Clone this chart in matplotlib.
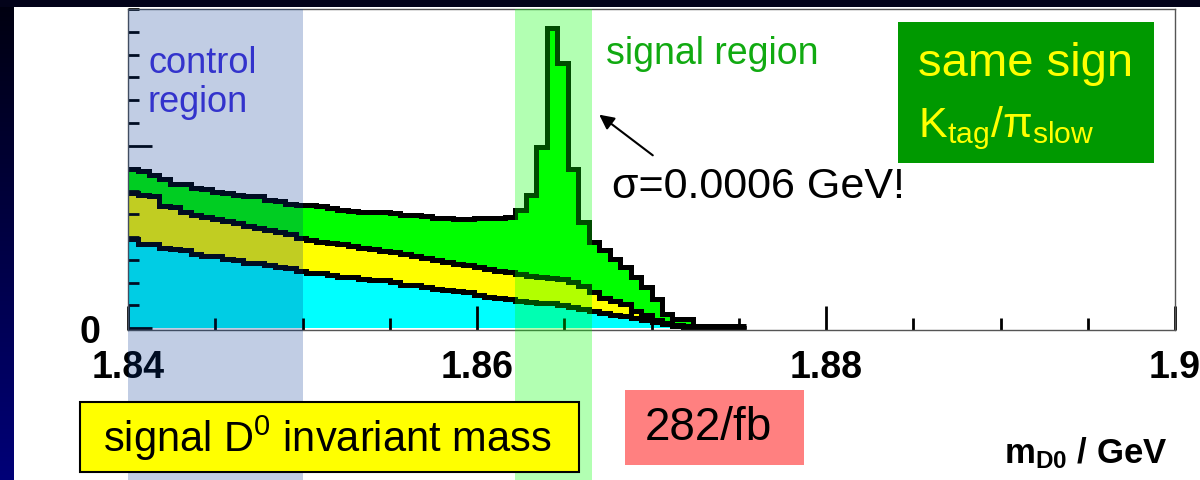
import numpy as np
import matplotlib
matplotlib.use('Agg')
import matplotlib.pyplot as plt
from matplotlib.patches import Rectangle, FancyArrowPatch
from matplotlib.ticker import MultipleLocator, FixedLocator, FixedFormatter

plt.rcParams['font.family'] = ['Liberation Sans', 'DejaVu Sans']
plt.rcParams['mathtext.fontset'] = 'custom'
plt.rcParams['mathtext.rm'] = 'Liberation Sans'
plt.rcParams['mathtext.it'] = 'Liberation Sans:italic'
plt.rcParams['mathtext.bf'] = 'Liberation Sans:bold'

# D0 mass histogram, 0.6 MeV bins starting at 1.84 GeV (stacked, cumulative)
m_low = 1.84
bin_width = 0.0006
cyan_top = [392, 370, 370, 352, 348, 343, 326, 317, 317, 304,
            299, 286, 286, 277, 268, 264, 251, 242, 242, 233,
            224, 224, 216, 211, 211, 202, 189, 189, 180, 172,
            167, 163, 158, 145, 136, 132, 128, 119, 114, 110,
            110, 101, 92, 84, 75, 66, 57, 53, 44, 35,
            26, 18, 9, 4, 0, 0, 0, 0, 0]
yellow_top = [594, 585, 581, 537, 532, 510, 497, 488, 480, 471,
              462, 449, 440, 431, 422, 414, 396, 387, 378, 374,
              370, 361, 352, 348, 339, 334, 326, 317, 308, 299,
              290, 282, 277, 268, 260, 251, 246, 238, 229, 224,
              220, 216, 202, 185, 158, 132, 119, 106, 75, 57,
              35, 22, 13, 9, 0, 0, 0, 0, 0]
total = [700, 691, 673, 656, 634, 634, 616, 612, 598, 594,
         585, 581, 581, 563, 559, 546, 541, 541, 537, 528,
         519, 515, 510, 510, 510, 506, 497, 497, 493, 484,
         484, 480, 480, 484, 484, 484, 488, 519, 585, 796,
         1316, 1162, 700, 466, 378, 343, 304, 268, 224, 180,
         128, 62, 40, 40, 9, 9, 9, 9, 9]

control_region = (1.84, 1.85)
signal_region = (1.8622, 1.8666)
x_ticks = [1.84, 1.86, 1.88, 1.90]
x_tick_labels = ['1.84', '1.86', '1.88', '1.9']

W, H = 1200, 481


def fx(px):
    return px / W


def fy(py):
    return 1 - py / H


fig = plt.figure(figsize=(12, 4.81), dpi=100, facecolor='white')

# dark slide border (left and top)
left_strip = fig.add_axes([0, 0, fx(14), 1])
grad = np.linspace(0, 1, 256).reshape(-1, 1)
left_strip.imshow(grad, aspect='auto', cmap=matplotlib.colors.LinearSegmentedColormap.from_list(
    'navy', [(0.0, 0.0, 0.06), (0.0, 0.0, 0.47)]))
left_strip.axis('off')
top_strip = fig.add_axes([0, fy(8), 1, 8 / H])
top_strip.set_facecolor((0.01, 0.01, 0.1))
top_strip.set_xticks([])
top_strip.set_yticks([])
for s in top_strip.spines.values():
    s.set_visible(False)

ax_left, ax_right, ax_top, ax_bottom = 128, 1175, 10, 331
ax = fig.add_axes([fx(ax_left), fy(ax_bottom), (ax_right - ax_left) / W, (ax_bottom - ax_top) / H])

edges = m_low + bin_width * np.arange(len(total) + 1)
ax.stairs(total, edges, fill=True, color='#00ff00', baseline=0, zorder=1)
ax.stairs(yellow_top, edges, fill=True, color='#ffff00', baseline=0, zorder=1.1)
ax.stairs(cyan_top, edges, fill=True, color='#00ffff', baseline=0, zorder=1.2)
for vals in (total, yellow_top, cyan_top):
    ax.stairs(vals, edges, color='black', lw=3.6, baseline=None, zorder=1.5)

ax.set_xlim(1.84, 1.90)
ax.set_ylim(-8, 1400)

ax.xaxis.set_major_locator(FixedLocator(x_ticks))
ax.xaxis.set_major_formatter(FixedFormatter(x_tick_labels))
ax.xaxis.set_minor_locator(MultipleLocator(0.005))
ax.yaxis.set_major_locator(FixedLocator([0, 800]))
ax.yaxis.set_major_formatter(FixedFormatter(['0', '']))
ax.yaxis.set_minor_locator(MultipleLocator(100))
ax.tick_params(axis='x', which='major', direction='in', length=17, width=2, pad=14,
               labelsize=27, top=False)
ax.tick_params(axis='x', which='minor', direction='in', length=8.5, width=2, top=False)
ax.tick_params(axis='y', which='major', direction='in', length=17, width=2, pad=20,
               labelsize=27, right=False)
ax.tick_params(axis='y', which='minor', direction='in', length=8, width=2, right=False)
for lab in ax.get_xticklabels() + ax.get_yticklabels():
    lab.set_fontweight('bold')
for s in ax.spines.values():
    s.set_color('#555555')
    s.set_linewidth(1.0)

# control / signal region bands reach down to the bottom of the slide
band_low = -(H - ax_bottom) / (ax_bottom - ax_top)
ax.axvspan(*control_region, ymin=band_low, ymax=1, color=(0, 53 / 255, 144 / 255),
           alpha=0.243, lw=0, clip_on=False, zorder=3)
ax.axvspan(*signal_region, ymin=band_low, ymax=1, color=(0, 1, 0),
           alpha=0.3, lw=0, clip_on=False, zorder=3)

# annotations
fig.text(fx(148), fy(73), 'control', color='#3333cc', fontsize=26, va='baseline')
fig.text(fx(148), fy(112), 'region', color='#3333cc', fontsize=26, va='baseline')
fig.text(fx(606), fy(64), 'signal region', color='#11aa11', fontsize=27, va='baseline')

fig.add_artist(Rectangle((fx(898), fy(164)), fx(1154) - fx(898), fy(23) - fy(164),
                         transform=fig.transFigure, facecolor='#009900', edgecolor='none'))
fig.text(fx(918), fy(76), 'same sign', color='#ffff00', fontsize=34, va='baseline')
fig.text(fx(918), fy(137), r'$\mathrm{K_{tag}/\pi_{slow}}$', color='#ffff00', fontsize=31,
         va='baseline')

fig.text(fx(612), fy(198), 'σ=0.0006 GeV!', color='black', fontsize=31, va='baseline')
fig.add_artist(FancyArrowPatch((fx(655), fy(158)), (fx(597), fy(114)), transform=fig.transFigure,
                               arrowstyle='-|>', mutation_scale=22, lw=1.5, color='black'))

fig.add_artist(Rectangle((fx(80), fy(473)), fx(579) - fx(80), fy(403) - fy(473),
                         transform=fig.transFigure, facecolor='#ffff00', edgecolor='black', lw=1.5))
fig.text(fx(327), fy(438), r'signal D$^0$ invariant mass', color='black', fontsize=30,
         ha='center', va='center')

fig.add_artist(Rectangle((fx(625), fy(466)), fx(804) - fx(625), fy(391) - fy(466),
                         transform=fig.transFigure, facecolor='#ff8080', edgecolor='none'))
fig.text(fx(645), fy(428), '282/fb', color='black', fontsize=33, va='center')

fig.text(fx(1168), fy(463), r'$\mathbf{m_{D0}}$ / GeV', color='black', fontsize=25,
         fontweight='bold', ha='right', va='baseline')

fig.savefig('out.png', dpi=100, facecolor='white')
